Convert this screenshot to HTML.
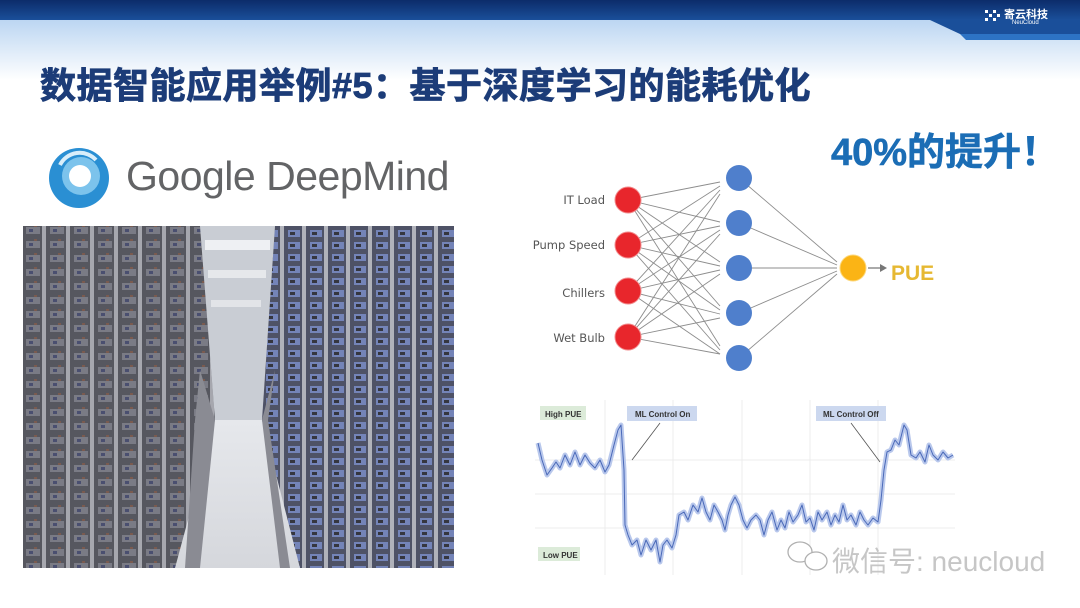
<!DOCTYPE html>
<html><head><meta charset="utf-8"><style>
html,body{margin:0;padding:0;}
body{width:1080px;height:608px;position:relative;overflow:hidden;background:#fff;font-family:"Liberation Sans","Noto Sans CJK SC",sans-serif;}
.abs{position:absolute;}
</style></head><body>
<svg class="abs" style="left:0;top:0" width="1080" height="608" xmlns="http://www.w3.org/2000/svg">
<defs>
<linearGradient id="topbar" x1="0" y1="0" x2="0" y2="1">
<stop offset="0" stop-color="#0c2c6a"/><stop offset="1" stop-color="#1a4f9a"/></linearGradient>
<linearGradient id="haze" x1="0" y1="0" x2="0" y2="1">
<stop offset="0" stop-color="#bcd6f2"/><stop offset="1" stop-color="#ffffff"/></linearGradient>
<linearGradient id="floor" x1="0" y1="0" x2="0" y2="1">
<stop offset="0" stop-color="#e6e8ec"/><stop offset="1" stop-color="#d5d7dc"/></linearGradient>
<pattern id="rackL" width="24" height="14" patternUnits="userSpaceOnUse">
<rect width="24" height="14" fill="#56575f"/><rect x="2" y="3" width="14" height="7" fill="#7a7b85"/><rect x="18" width="4" height="14" fill="#a6a7ae"/><rect x="5" y="5" width="4" height="3" fill="#4a4f70"/><rect x="10" y="1" width="3" height="2" fill="#7a5b50"/></pattern>
<pattern id="rackR" width="22" height="12" patternUnits="userSpaceOnUse">
<rect width="22" height="12" fill="#4e5266"/><rect x="2" y="2" width="12" height="7" fill="#7484b8"/><rect x="16" width="4" height="12" fill="#b0b2ba"/><rect x="4" y="4" width="5" height="3" fill="#35363f"/></pattern>
</defs>
<rect x="0" y="0" width="1080" height="20" fill="url(#topbar)"/>
<rect x="0" y="20" width="1080" height="60" fill="url(#haze)"/>
<path d="M930 20 L960 34 L1080 34 L1080 20 Z" fill="#1a4f9a"/>
<path d="M960 34 L1080 34 L1080 40 L966 40 Z" fill="#2d73c4"/>
<!-- photo -->
<rect x="23" y="226" width="431" height="342" fill="#6a6b75"/>
<polygon points="23,226 200,226 215,420 200,568 23,568" fill="url(#rackL)"/>
<polygon points="454,226 275,226 262,420 280,568 454,568" fill="url(#rackR)"/>
<polygon points="200,226 275,226 262,420 215,420" fill="#c9cdd4"/>
<rect x="205" y="240" width="65" height="10" fill="#eef0f3"/>
<rect x="208" y="270" width="58" height="8" fill="#e6e8eb"/>
<rect x="211" y="300" width="50" height="7" fill="#e2e4e8"/>
<polygon points="215,420 262,420 300,568 175,568" fill="url(#floor)"/>
<polygon points="200,370 215,420 200,568 185,568 195,420" fill="#8a8b93"/>
<polygon points="275,370 262,420 280,568 290,568 268,420" fill="#8a8b93"/>
<!-- logo -->
<circle cx="79" cy="178" r="30" fill="#2a8fd3"/>
<circle cx="81" cy="176" r="19" fill="#7cc3ec"/>
<circle cx="80" cy="176" r="11" fill="#fff"/>
<path d="M60 165 A22 22 0 0 1 96 160" stroke="#d9eefa" stroke-width="4" fill="none"/>
<!-- network -->
<g stroke="#8d8d8d" stroke-width="0.9">
<line x1="628" y1="200" x2="720" y2="182"/><line x1="628" y1="200" x2="720" y2="222"/><line x1="628" y1="200" x2="720" y2="262"/><line x1="628" y1="200" x2="720" y2="306"/><line x1="628" y1="200" x2="720" y2="346"/>
<line x1="628" y1="245" x2="720" y2="186"/><line x1="628" y1="245" x2="720" y2="226"/><line x1="628" y1="245" x2="720" y2="266"/><line x1="628" y1="245" x2="720" y2="310"/><line x1="628" y1="245" x2="720" y2="350"/>
<line x1="628" y1="291" x2="720" y2="190"/><line x1="628" y1="291" x2="720" y2="230"/><line x1="628" y1="291" x2="720" y2="270"/><line x1="628" y1="291" x2="720" y2="314"/><line x1="628" y1="291" x2="720" y2="354"/>
<line x1="628" y1="337" x2="720" y2="194"/><line x1="628" y1="337" x2="720" y2="234"/><line x1="628" y1="337" x2="720" y2="274"/><line x1="628" y1="337" x2="720" y2="318"/><line x1="628" y1="337" x2="720" y2="354"/>
<line x1="739" y1="178" x2="837" y2="262"/><line x1="739" y1="223" x2="837" y2="265"/><line x1="739" y1="268" x2="837" y2="268"/><line x1="739" y1="313" x2="837" y2="271"/><line x1="739" y1="358" x2="837" y2="274"/>
<line x1="868" y1="268" x2="880" y2="268" stroke-width="1.5"/>
</g>
<polygon points="880,264 887,268 880,272" fill="#777"/>
<g fill="#e8262c" stroke="#f28a8c" stroke-width="1"><circle cx="628" cy="200" r="13"/><circle cx="628" cy="245" r="13"/><circle cx="628" cy="291" r="13"/><circle cx="628" cy="337" r="13"/></g>
<g fill="#4f7fcc"><circle cx="739" cy="178" r="13"/><circle cx="739" cy="223" r="13"/><circle cx="739" cy="268" r="13"/><circle cx="739" cy="313" r="13"/><circle cx="739" cy="358" r="13"/></g>
<circle cx="853" cy="268" r="13" fill="#fbb415" stroke="#fcd77a"/>
<g font-family="DejaVu Sans, sans-serif" font-size="11.5" fill="#555" text-anchor="end">
<text x="605" y="204">IT Load</text><text x="605" y="249">Pump Speed</text><text x="605" y="297">Chillers</text><text x="605" y="342">Wet Bulb</text></g>
<text x="891" y="280" font-family="Liberation Sans, sans-serif" font-weight="bold" font-size="21" fill="#e6b832">PUE</text>
<!-- chart -->
<g stroke="#ececec" stroke-width="1">
<line x1="535" y1="460" x2="955" y2="460"/><line x1="535" y1="494" x2="955" y2="494"/><line x1="535" y1="528" x2="955" y2="528"/>
<line x1="605" y1="400" x2="605" y2="575"/><line x1="673" y1="400" x2="673" y2="575"/><line x1="742" y1="400" x2="742" y2="575"/><line x1="810" y1="400" x2="810" y2="575"/><line x1="878" y1="400" x2="878" y2="575"/>
</g>
<rect x="540" y="406" width="46" height="14" fill="#dcebd9"/>
<text x="545" y="417" font-size="8" font-weight="bold" fill="#333">High PUE</text>
<rect x="538" y="547" width="42" height="14" fill="#dcebd9"/>
<text x="543" y="558" font-size="8" font-weight="bold" fill="#333">Low PUE</text>
<rect x="627" y="406" width="70" height="15" fill="#ccd8ef"/>
<text x="635" y="417" font-size="8" font-weight="bold" fill="#333">ML Control On</text>
<rect x="816" y="406" width="70" height="15" fill="#ccd8ef"/>
<text x="823" y="417" font-size="8" font-weight="bold" fill="#333">ML Control Off</text>
<line x1="660" y1="423" x2="632" y2="460" stroke="#555" stroke-width="0.8"/>
<line x1="851" y1="423" x2="880" y2="462" stroke="#555" stroke-width="0.8"/>
<polyline fill="none" stroke="#b9c8ec" stroke-width="5" stroke-linejoin="round" points="538,443 542,460 547,475 552,468 556,462 560,468 565,455 570,465 575,452 580,465 585,455 590,463 595,468 600,460 605,472 609,465 614,445 618,430 621,425 624,470 625,525 628,535 632,545 637,540 641,555 646,540 651,550 656,540 660,562 663,545 667,540 672,548 676,535 679,515 684,512 688,520 693,505 698,512 702,498 706,512 710,520 714,505 718,512 722,520 725,530 728,515 731,505 735,497 739,505 743,520 747,528 751,520 756,515 760,520 764,535 768,520 772,512 777,530 781,520 785,528 789,512 793,522 798,515 802,505 806,522 810,518 814,530 818,512 822,520 827,512 831,525 835,515 839,522 843,505 847,520 851,515 856,525 860,512 864,520 868,525 873,518 878,522 881,500 884,470 887,452 891,450 895,440 899,445 904,425 907,430 911,455 916,458 920,452 925,462 929,445 933,455 938,460 943,452 948,458 953,455"/>
<polyline fill="none" stroke="#4a69b8" stroke-width="1" stroke-linejoin="round" points="538,443 542,460 547,475 552,468 556,462 560,468 565,455 570,465 575,452 580,465 585,455 590,463 595,468 600,460 605,472 609,465 614,445 618,430 621,425 624,470 625,525 628,535 632,545 637,540 641,555 646,540 651,550 656,540 660,562 663,545 667,540 672,548 676,535 679,515 684,512 688,520 693,505 698,512 702,498 706,512 710,520 714,505 718,512 722,520 725,530 728,515 731,505 735,497 739,505 743,520 747,528 751,520 756,515 760,520 764,535 768,520 772,512 777,530 781,520 785,528 789,512 793,522 798,515 802,505 806,522 810,518 814,530 818,512 822,520 827,512 831,525 835,515 839,522 843,505 847,520 851,515 856,525 860,512 864,520 868,525 873,518 878,522 881,500 884,470 887,452 891,450 895,440 899,445 904,425 907,430 911,455 916,458 920,452 925,462 929,445 933,455 938,460 943,452 948,458 953,455"/>
<!-- watermark icon -->
<g fill="#fff" stroke="#b0b0b0" stroke-width="1.3"><ellipse cx="800" cy="552" rx="12" ry="10"/><ellipse cx="816" cy="561" rx="11" ry="9"/></g>
<!-- brand icon -->
<g fill="#fff"><rect x="985" y="10" width="3" height="3"/><rect x="989" y="14" width="3" height="3"/><rect x="993" y="10" width="3" height="3"/><rect x="985" y="18" width="3" height="3"/><rect x="993" y="18" width="3" height="3"/><rect x="997" y="14" width="3" height="3"/></g>
</svg>
<div class="abs" style="left:1004px;top:6px;color:#fff;font-size:11px;font-weight:bold;">寄云科技</div>
<div class="abs" style="left:1012px;top:20px;color:#fff;font-size:6px;">NeuCloud</div>
<div class="abs" style="left:40px;top:57px;font-size:36px;font-weight:bold;color:#1c3c78;letter-spacing:0.5px;white-space:nowrap;-webkit-text-stroke:0.8px #1c3c78;">数据智能应用举例#5：基于深度学习的能耗优化</div>
<div class="abs" style="left:126px;top:153px;font-size:41px;color:#636466;font-family:'Liberation Sans',sans-serif;letter-spacing:-0.5px;white-space:nowrap;">Google DeepMind</div>
<div class="abs" style="left:831px;top:121px;font-size:38px;font-weight:bold;color:#1b6db5;white-space:nowrap;-webkit-text-stroke:0.6px #1b6db5;">40%的提升！</div>
<div class="abs" style="left:832px;top:540px;font-size:28px;color:#c6c6c6;white-space:nowrap;">微信号: neucloud</div>
</body></html>
